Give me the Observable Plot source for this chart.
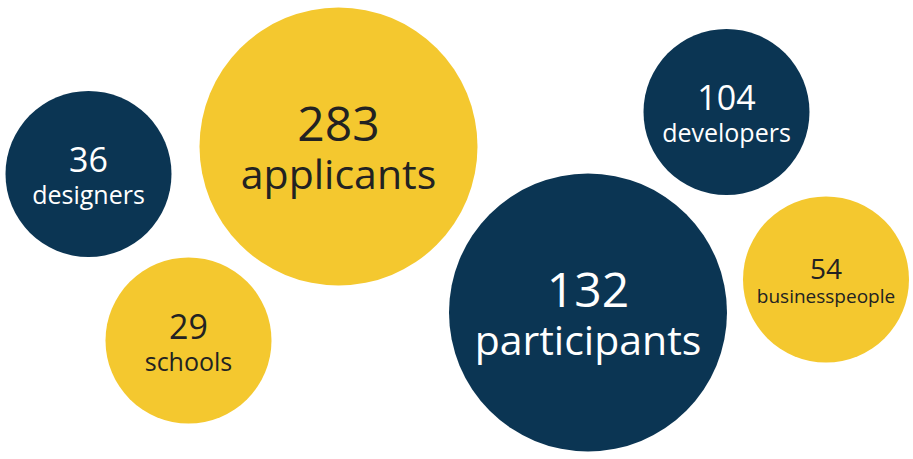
<!DOCTYPE html>
<html>
<head>
<meta charset="utf-8">
<script src="https://cdn.jsdelivr.net/npm/d3@7"></script>
<script src="https://cdn.jsdelivr.net/npm/@observablehq/plot@0.6"></script>
<style>
  html, body { margin: 0; padding: 0; background: #ffffff; }
  #chart svg { display: block; }
</style>
</head>
<body>
<div id="chart"></div>
<script>
// Data
const counts = [36, 283, 29, 132, 104, 54];
const groups = ["designers", "applicants", "schools", "participants", "developers", "businesspeople"];
const tiers = ["small", "large", "small", "large", "small", "small"];
const palette = ["navy", "yellow", "yellow", "navy", "navy", "yellow"];
// bubble layout coordinates (layout units)
const layoutX = [88, 338, 188, 587.5, 726, 825.5];
const layoutY = [173.5, 146, 340, 312, 111.5, 279];

const rows = counts.map((v, i) => ({
  value: v, label: groups[i], tier: tiers[i], tone: palette[i],
  cx: layoutX[i], cy: layoutY[i]
}));

const NAVY = "#0b3553", YELLOW = "#f4c82f";
const radius = {large: 139, small: 83};
const isLong = d => d.label.length > 12;
const numSize = d => d.tier === "large" ? 48 : (isLong(d) ? 28 : 34);
const labSize = d => d.tier === "large" ? 41 : (isLong(d) ? 19 : 25);
const numOff = d => d.tier === "large" ? -6 : (isLong(d) ? -1 : -2);
const labOff = d => d.tier === "large" ? 42 : (isLong(d) ? 23.5 : 30);
const textColor = d => d.tone === "navy" ? "#ffffff" : "#222222";

const chart = Plot.plot({
  width: 913,
  height: 459,
  margin: 0,
  style: {fontFamily: "'Open Sans', sans-serif", background: "#ffffff"},
  x: {domain: [0, 913], range: [0, 913], axis: null},
  y: {domain: [0, 459], range: [0, 459], axis: null},
  r: {type: "identity"},
  marks: [
    Plot.dot(rows, {
      x: "cx", y: "cy",
      r: d => radius[d.tier],
      fill: d => d.tone === "navy" ? NAVY : YELLOW,
      stroke: "none"
    }),
    Plot.text(rows, {
      x: "cx", y: d => d.cy + numOff(d),
      text: d => String(d.value),
      fontSize: numSize,
      fill: textColor,
      lineAnchor: "bottom",
      textAnchor: "middle",
      fontWeight: 400
    }),
    Plot.text(rows, {
      x: "cx", y: d => d.cy + labOff(d),
      text: "label",
      fontSize: labSize,
      fill: textColor,
      lineAnchor: "bottom",
      textAnchor: "middle",
      fontWeight: d => d.tier === "large" ? 400 : 500
    })
  ]
});
document.getElementById("chart").appendChild(chart);
</script>
</body>
</html>
